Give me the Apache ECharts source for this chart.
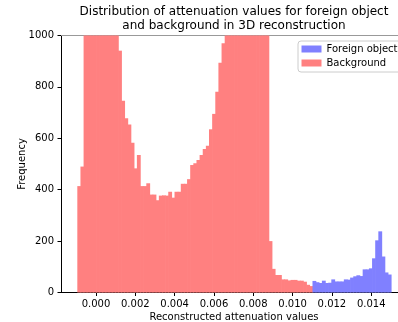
<!DOCTYPE html>
<html>
<head>
<meta charset="utf-8">
<script src="https://cdn.jsdelivr.net/npm/echarts@6/dist/echarts.min.js"></script>
<style>html,body{margin:0;padding:0;background:#fff}#c{width:398px;height:322px}</style>
</head>
<body>
<div id="c"></div>
<script>
// Histogram bin definition (shared bins)
var binStart = -0.00095;
var binWidth = 0.0001595;
// Background counts (bins 0..74)
var backgroundCounts = [
  414, 490,
  1350, 1900, 2500, 2950, 3150, 3050, 2750, 2300, 1850, 1450, 1120,
  941, 746, 678, 654, 583, 483, 535, 414, 414, 425, 381, 381, 359, 377, 378, 377,
  392, 369, 392, 392, 423, 423, 441, 496, 503, 516, 535, 558, 571, 635, 695, 781, 894, 970,
  1080, 1250, 1500, 1800, 2150, 2450, 2700, 2850, 2800, 2600, 2300, 1900, 1500, 1150,
  200, 92, 68, 68, 51, 51, 47, 49, 49, 46, 46, 42, 30, 25
];
// Foreign object counts (bins 75..99)
var foreignStartBin = 75;
var foreignCounts = [45, 40, 37, 46, 37, 38, 51, 43, 43, 43, 51, 50, 58, 63, 67, 64, 90, 90, 94, 133, 203, 238, 140, 78, 70];
var xTicks = [0, 0.002, 0.004, 0.006, 0.008, 0.010, 0.012, 0.014];
var yTicks = [0, 200, 400, 600, 800, 1000];

function toBins(counts, startBin) {
  return counts.map(function (c, i) {
    var k = startBin + i;
    return [binStart + k * binWidth, binStart + (k + 1) * binWidth, c];
  });
}

function renderItem(params, api) {
  var p0 = api.coord([api.value(0), api.value(2)]);
  var p1 = api.coord([api.value(1), 0]);
  var cs = params.coordSys;
  var rect = echarts.graphic.clipRectByRect(
    { x: p0[0], y: p0[1], width: p1[0] - p0[0] + 0.7, height: p1[1] - p0[1] },
    { x: cs.x, y: cs.y, width: cs.width, height: cs.height }
  );
  var c = api.visual('color');
  return rect && { type: 'rect', shape: rect, style: { fill: c } };
}

var font = 'DejaVu Sans';
var chart = echarts.init(document.getElementById('c'), null, { renderer: 'canvas' });
chart.setOption({
  animation: false,
  backgroundColor: '#fff',
  title: {
    text: 'Distribution of attenuation values for foreign object\nand background in 3D reconstruction',
    left: 229, top: 0, textAlign: 'center',
    textStyle: { fontFamily: font, fontSize: 12, fontWeight: 'normal', color: '#000', lineHeight: 14 }
  },
  legend: {
    orient: 'vertical', left: 298, top: 41,
    data: ['Foreign object', 'Background'],
    icon: 'rect', itemWidth: 20, itemHeight: 7, itemGap: 2,
    padding: [2, 8, 3, 3.5],
    backgroundColor: 'rgba(255,255,255,0.8)', borderColor: '#cccccc', borderWidth: 1, borderRadius: 3,
    textStyle: { fontFamily: font, fontSize: 10, color: '#000', lineHeight: 12 }
  },
  grid: { left: 61, right: -9, top: 35.5, bottom: 29.5, containLabel: false, outerBoundsMode: 'none' },
  xAxis: [{
    type: 'value', min: -0.00178, max: 0.01582,
    name: 'Reconstructed attenuation values', nameLocation: 'middle', nameGap: 20, nameMoveOverlap: false,
    nameTextStyle: { fontFamily: font, fontSize: 10, color: '#000' },
    axisLine: { show: true, onZero: false, lineStyle: { color: '#000', width: 1 } },
    axisTick: { show: true, length: 3.5, lineStyle: { color: '#000' }, customValues: xTicks },
    axisLabel: { fontFamily: font, fontSize: 10, color: '#000', margin: 7, customValues: xTicks,
      formatter: function (v) { return v.toFixed(3); } },
    splitLine: { show: false }
  }, {
    type: 'value', position: 'top', min: -0.00178, max: 0.01582,
    axisLine: { show: true, onZero: false, lineStyle: { color: '#999', width: 1 } },
    axisTick: { show: false }, axisLabel: { show: false }, splitLine: { show: false }
  }],
  yAxis: {
    type: 'value', min: 0, max: 1000, interval: 200,
    name: 'Frequency', nameLocation: 'middle', nameGap: 34, nameRotate: 90, nameMoveOverlap: false,
    nameTextStyle: { fontFamily: font, fontSize: 10, color: '#000' },
    axisLine: { show: true, onZero: false, lineStyle: { color: '#000', width: 1 } },
    axisTick: { show: true, length: 3.5, lineStyle: { color: '#000' } },
    axisLabel: { fontFamily: font, fontSize: 10, color: '#000', margin: 7,
      formatter: function (v) { return String(v); } },
    splitLine: { show: false }
  },
  series: [{
    name: 'Background', type: 'custom', renderItem: renderItem,
    itemStyle: { color: '#ff8080' },
    encode: { x: [0, 1], y: 2 },
    data: toBins(backgroundCounts, 0)
  }, {
    name: 'Foreign object', type: 'custom', renderItem: renderItem,
    itemStyle: { color: '#8080ff' },
    encode: { x: [0, 1], y: 2 },
    data: toBins(foreignCounts, foreignStartBin)
  }]
});
</script>
</body>
</html>
